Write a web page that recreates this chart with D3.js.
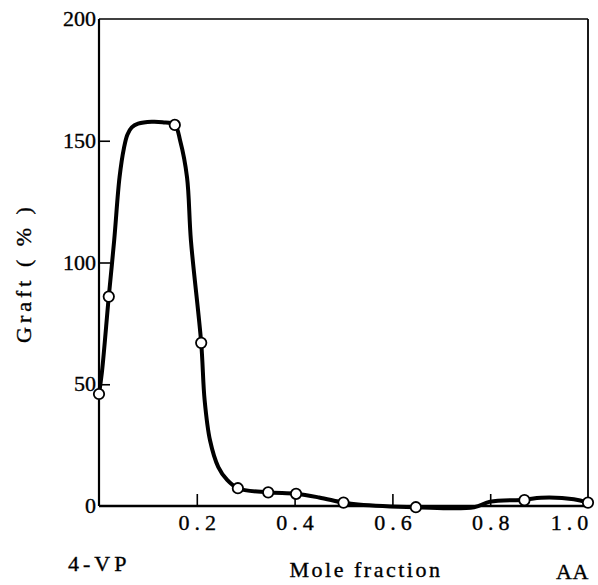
<!DOCTYPE html>
<html>
<head>
<meta charset="utf-8">
<script src="https://cdn.jsdelivr.net/npm/d3@7"></script>
<style>
  html, body { margin: 0; padding: 0; background: #fff; }
  svg { display: block; }
  text { font-family: "Liberation Serif", "DejaVu Serif", serif; fill: #000; stroke: #000; stroke-width: 0.35px; }
</style>
</head>
<body>
<svg id="chart" width="598" height="585"></svg>
<script>
// Measured points (open circles)
const pointX = [0.0, 0.02, 0.155, 0.209, 0.284, 0.346, 0.403, 0.50, 0.648, 0.87, 1.0];
const pointY = [46, 86, 156.5, 67, 7.3, 5.6, 5.0, 1.4, -0.5, 2.4, 1.4];

// Smooth hand-drawn curve
const curveX = [0.0, 0.006, 0.02, 0.031, 0.042, 0.051, 0.058, 0.067, 0.08, 0.108, 0.13, 0.155, 0.166, 0.18, 0.188, 0.209, 0.216, 0.227, 0.244, 0.262, 0.284, 0.346, 0.403, 0.45, 0.50, 0.53, 0.648, 0.767, 0.80, 0.87, 0.904, 0.971, 1.0];
const curveY = [46, 55, 86, 109, 135, 147, 152.5, 155.5, 157, 157.8, 157.6, 156.5, 150, 135, 109, 67, 43.5, 27, 16, 10.7, 7.3, 5.6, 5.0, 3.5, 1.4, 0.6, -0.5, -0.5, 1.8, 2.6, 3.4, 2.8, 1.4];

const xTicks = [0.2, 0.4, 0.6, 0.8, 1.0];
const xTickLabels = ["0.2", "0.4", "0.6", "0.8", "1.0"];
const yTicks = [0, 50, 100, 150, 200];
const yTickLabels = ["0", "50", "100", "150", "200"];

const svg = d3.select("#chart");
const L = 99, R = 588, T = 19, B = 506;

const x = d3.scaleLinear().domain([0, 1]).range([L, R]);
const y = d3.scaleLinear().domain([0, 200]).range([B, T]);

// Frame
svg.append("line").attr("x1", L).attr("x2", L).attr("y1", T).attr("y2", B)
  .attr("stroke", "#000").attr("stroke-width", 2.2);
svg.append("line").attr("x1", L).attr("x2", R).attr("y1", B).attr("y2", B)
  .attr("stroke", "#000").attr("stroke-width", 2.6);
svg.append("line").attr("x1", L).attr("x2", R).attr("y1", T).attr("y2", T)
  .attr("stroke", "#000").attr("stroke-width", 1.6);
svg.append("line").attr("x1", R).attr("x2", R).attr("y1", T).attr("y2", B)
  .attr("stroke", "#000").attr("stroke-width", 1.8);

// Y ticks (inward)
const yAxis = d3.axisRight(y).tickValues([50, 100, 150]).tickSize(11).tickFormat("");
svg.append("g").attr("transform", `translate(${L},0)`).call(yAxis)
  .call(g => g.select(".domain").remove())
  .call(g => g.selectAll(".tick line").attr("stroke", "#000").attr("stroke-width", 1.6));

// X ticks (inward, upward)
const xAxis = d3.axisTop(x).tickValues([0.2, 0.4, 0.6, 0.8]).tickSize(12).tickFormat("");
svg.append("g").attr("transform", `translate(0,${B})`).call(xAxis)
  .call(g => g.select(".domain").remove())
  .call(g => g.selectAll(".tick line").attr("stroke", "#000").attr("stroke-width", 1.6));

// Y tick labels
svg.append("g").selectAll("text").data(yTicks).join("text")
  .attr("x", L - 3)
  .attr("y", d => y(d) + 7)
  .attr("text-anchor", "end")
  .attr("font-size", 22)
  .text((d, i) => yTickLabels[i]);

// X tick labels
svg.append("g").selectAll("text").data(xTicks).join("text")
  .attr("x", d => d === 1.0 ? 572 : x(d) + 3)
  .attr("y", 530)
  .attr("text-anchor", "middle")
  .attr("font-size", 22)
  .attr("letter-spacing", 5)
  .text((d, i) => xTickLabels[i]);

// Axis titles
svg.append("text").attr("x", 366).attr("y", 577).attr("text-anchor", "middle")
  .attr("font-size", 22).attr("letter-spacing", 2.5).text("Mole fraction");
svg.append("text").attr("x", 68).attr("y", 571).attr("text-anchor", "start")
  .attr("font-size", 22).attr("letter-spacing", 4).text("4-VP");
svg.append("text").attr("x", 556).attr("y", 579).attr("text-anchor", "start")
  .attr("font-size", 22).attr("letter-spacing", 0.5).text("AA");
svg.append("text")
  .attr("transform", "translate(31,273) rotate(-90)")
  .attr("text-anchor", "middle")
  .attr("font-size", 22).attr("letter-spacing", 4)
  .text("Graft ( % )");

// Curve
const curveData = curveX.map((v, i) => [v, curveY[i]]);
const line = d3.line().x(d => x(d[0])).y(d => y(d[1])).curve(d3.curveCatmullRom.alpha(0.5));
svg.append("path").datum(curveData)
  .attr("d", line)
  .attr("fill", "none")
  .attr("stroke", "#000")
  .attr("stroke-width", 4)
  .attr("stroke-linejoin", "round")
  .attr("stroke-linecap", "round");

// Points
const pts = pointX.map((v, i) => [v, pointY[i]]);
svg.append("g").selectAll("circle").data(pts).join("circle")
  .attr("cx", d => x(d[0]))
  .attr("cy", d => y(d[1]))
  .attr("r", 5.2)
  .attr("fill", "#fff")
  .attr("stroke", "#000")
  .attr("stroke-width", 1.8);
</script>
</body>
</html>
